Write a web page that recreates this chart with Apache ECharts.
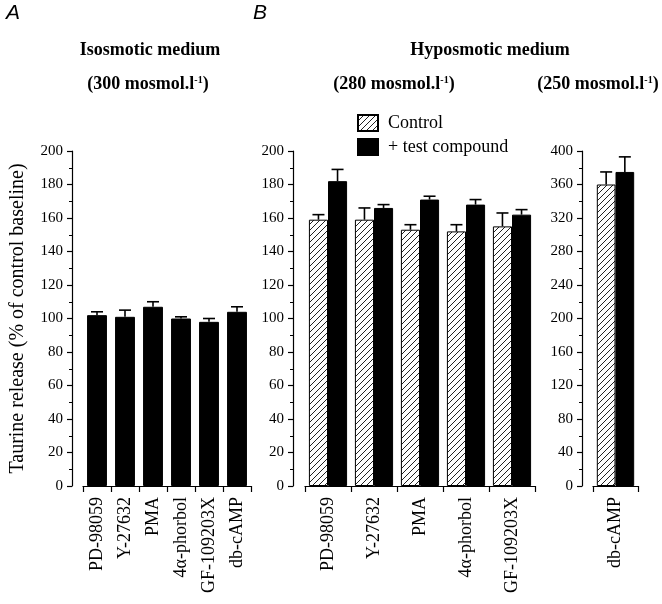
<!DOCTYPE html>
<html>
<head>
<meta charset="utf-8">
<script src="https://cdn.jsdelivr.net/npm/echarts@6/dist/echarts.min.js"></script>
<style>
html,body{margin:0;padding:0;background:#fff;}
#chart{width:662px;height:604px;}
</style>
</head>
<body>
<div id="chart"></div>
<script>
// ---- data ----
const catsIso = ['PD-98059', 'Y-27632', 'PMA', '4\u03b1-phorbol', 'GF-109203X', 'db-cAMP'];
const isoMean = [102, 101, 107, 100, 98, 104];
const isoErr = [2, 4, 3, 1, 2, 3];

const catsHypo = ['PD-98059', 'Y-27632', 'PMA', '4\u03b1-phorbol', 'GF-109203X'];
const hypoCtrl = [159, 159, 153, 152, 155];
const hypoCtrlErr = [3, 7, 3, 4, 8];
const hypoTest = [182, 166, 171, 168, 162];
const hypoTestErr = [7, 2, 2, 3, 3];

const catsCamp = ['db-cAMP'];
const campCtrl = [360];
const campCtrlErr = [15];
const campTest = [375];
const campTestErr = [18];

const yTicksA = [0, 200, 20];
const yTicksC = [0, 400, 40];

// ---- style ----
const SERIF = '"Liberation Serif", "Times New Roman", serif';
const chart = echarts.init(document.getElementById('chart'), null, {renderer: 'canvas'});

function hatch() {
  const c = document.createElement('canvas');
  c.width = 6; c.height = 6;
  const g = c.getContext('2d');
  g.fillStyle = '#fff'; g.fillRect(0, 0, 6, 6);
  g.strokeStyle = '#222'; g.lineWidth = 1;
  g.beginPath();
  g.moveTo(0, 6); g.lineTo(6, 0);
  g.moveTo(-1, 1); g.lineTo(1, -1);
  g.moveTo(5, 7); g.lineTo(7, 5);
  g.stroke();
  return {image: c, repeat: 'repeat'};
}
const HATCH = hatch();

function xAxis(idx, cats) {
  return {
    type: 'category', gridIndex: idx, data: cats, offset: 3,
    axisLine: {show: true, lineStyle: {color: '#000', width: 1.2}},
    axisTick: {show: true, length: 6, inside: false, lineStyle: {color: '#000', width: 1.2}},
    axisLabel: {rotate: 90, margin: 8, color: '#000', fontFamily: SERIF, fontSize: 18},
    splitLine: {show: false}
  };
}
function yAxis(idx, t, off, name) {
  return {
    type: 'value', gridIndex: idx, min: t[0], max: t[1], interval: t[2], offset: off,
    minorTick: {show: true, splitNumber: 2, length: 3, lineStyle: {color: '#000', width: 1}},
    axisLine: {show: true, lineStyle: {color: '#000', width: 1.2}},
    axisTick: {show: true, length: 5, lineStyle: {color: '#000', width: 1.2}},
    axisLabel: {margin: 9, color: '#000', fontFamily: SERIF, fontSize: 15},
    splitLine: {show: false},
    name: name || '', nameLocation: 'middle', nameGap: 44,
    nameTextStyle: {fontFamily: SERIF, fontSize: 20, color: '#000'}
  };
}

function errSeries(ax, means, errs, idx, n, gap) {
  return {
    type: 'custom', xAxisIndex: ax, yAxisIndex: ax, z: 5, silent: true,
    data: means.map((m, i) => [i, m, m + errs[i]]),
    renderItem: function (params, api) {
      const band = api.size([1, 0])[0];
      const bw = band * (1 - gap) / n;
      const base = api.coord([api.value(0), api.value(1)]);
      const top = api.coord([api.value(0), api.value(2)]);
      const cx = base[0] + (idx - (n - 1) / 2) * bw;
      const hw = 6;
      return {
        type: 'group',
        children: [
          {type: 'line', shape: {x1: cx, y1: base[1], x2: cx, y2: top[1]}, style: {stroke: '#000', lineWidth: 1.6}},
          {type: 'line', shape: {x1: cx - hw, y1: top[1], x2: cx + hw, y2: top[1]}, style: {stroke: '#000', lineWidth: 1.6}}
        ]
      };
    }
  };
}

const ctrlStyle = {color: HATCH, borderColor: '#000', borderWidth: 1};
const testStyle = {color: '#000', borderColor: '#000', borderWidth: 1};

const option = {
  animation: false,
  backgroundColor: '#fff',
  grid: [
    {left: 83, top: 151, width: 168, height: 335},
    {left: 305, top: 151, width: 230, height: 335},
    {left: 593, top: 151, width: 45, height: 335}
  ],
  xAxis: [xAxis(0, catsIso), xAxis(1, catsHypo), xAxis(2, catsCamp)],
  yAxis: [
    yAxis(0, yTicksA, 11, 'Taurine release (% of control baseline)'),
    yAxis(1, yTicksA, 12),
    yAxis(2, yTicksC, 11)
  ],
  legend: {
    data: ['Control', '+ test compound'],
    orient: 'vertical', left: 352, top: 109, itemGap: 6,
    itemWidth: 20, itemHeight: 16, icon: 'rect',
    textStyle: {fontFamily: SERIF, fontSize: 18, color: '#000', padding: [0, 0, 0, 5]}
  },
  series: [
    {type: 'bar', name: 'Isosmotic', xAxisIndex: 0, yAxisIndex: 0, data: isoMean,
     barCategoryGap: '29%', itemStyle: testStyle},
    errSeries(0, isoMean, isoErr, 0, 1, 0.29),

    {type: 'bar', name: 'Control', xAxisIndex: 1, yAxisIndex: 1, data: hypoCtrl,
     barCategoryGap: '17%', barGap: '0%', itemStyle: ctrlStyle},
    {type: 'bar', name: '+ test compound', xAxisIndex: 1, yAxisIndex: 1, data: hypoTest,
     barCategoryGap: '17%', barGap: '0%', itemStyle: testStyle},
    errSeries(1, hypoCtrl, hypoCtrlErr, 0, 2, 0.17),
    errSeries(1, hypoTest, hypoTestErr, 1, 2, 0.17),

    {type: 'bar', name: 'Control', xAxisIndex: 2, yAxisIndex: 2, data: campCtrl,
     barCategoryGap: '17%', barGap: '0%', itemStyle: ctrlStyle},
    {type: 'bar', name: '+ test compound', xAxisIndex: 2, yAxisIndex: 2, data: campTest,
     barCategoryGap: '17%', barGap: '0%', itemStyle: testStyle},
    errSeries(2, campCtrl, campCtrlErr, 0, 2, 0.17),
    errSeries(2, campTest, campTestErr, 1, 2, 0.17)
  ],
  graphic: [
    {type: 'text', x: 6, y: 3, style: {text: 'A', font: 'italic 21px "Liberation Sans", Arial, sans-serif', fill: '#000'}},
    {type: 'text', x: 253, y: 3, style: {text: 'B', font: 'italic 21px "Liberation Sans", Arial, sans-serif', fill: '#000'}},
    {type: 'text', x: 150, y: 50, style: {text: 'Isosmotic medium', font: 'bold 18px "Liberation Serif", serif', fill: '#000', align: 'center', verticalAlign: 'middle'}},
    {type: 'text', x: 490, y: 50, style: {text: 'Hyposmotic medium', font: 'bold 18px "Liberation Serif", serif', fill: '#000', align: 'center', verticalAlign: 'middle'}},
    {type: 'text', x: 148, y: 84, style: {
      text: '{a|(300 mosmol.l}{s|-1}{a|)}', align: 'center', verticalAlign: 'middle',
      rich: {a: {fontFamily: SERIF, fontWeight: 'bold', fontSize: 18, color: '#000'},
             s: {fontFamily: SERIF, fontWeight: 'bold', fontSize: 10, color: '#000', verticalAlign: 'top', padding: [0, 0, 8, 0]}}}},
    {type: 'text', x: 394, y: 84, style: {
      text: '{a|(280 mosmol.l}{s|-1}{a|)}', align: 'center', verticalAlign: 'middle',
      rich: {a: {fontFamily: SERIF, fontWeight: 'bold', fontSize: 18, color: '#000'},
             s: {fontFamily: SERIF, fontWeight: 'bold', fontSize: 10, color: '#000', verticalAlign: 'top', padding: [0, 0, 8, 0]}}}},
    {type: 'text', x: 598, y: 84, style: {
      text: '{a|(250 mosmol.l}{s|-1}{a|)}', align: 'center', verticalAlign: 'middle',
      rich: {a: {fontFamily: SERIF, fontWeight: 'bold', fontSize: 18, color: '#000'},
             s: {fontFamily: SERIF, fontWeight: 'bold', fontSize: 10, color: '#000', verticalAlign: 'top', padding: [0, 0, 8, 0]}}}}
  ]
};
chart.setOption(option);
</script>
</body>
</html>
